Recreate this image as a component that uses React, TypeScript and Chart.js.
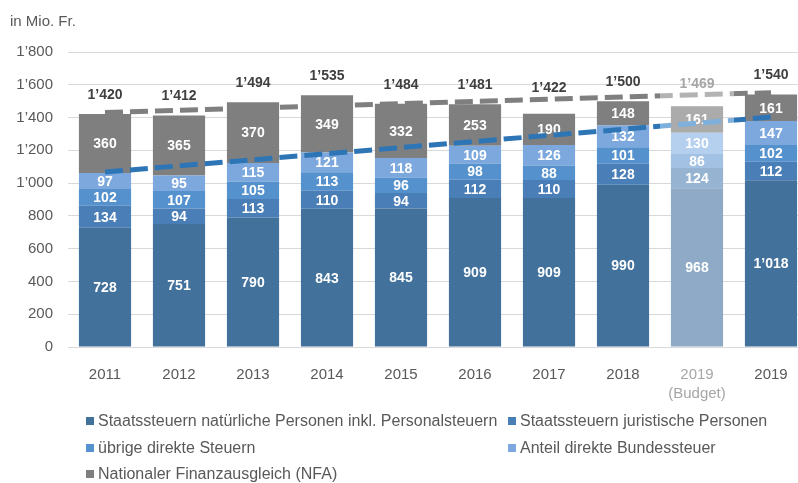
import React, { useEffect, useRef } from "react";
import { Chart, registerables } from "chart.js";

Chart.register(...registerables);

const CATEGORIES: (string | string[])[] = ["2011", "2012", "2013", "2014", "2015", "2016", "2017", "2018", ["2019", "(Budget)"], "2019"];
const IS_BUDGET = [false, false, false, false, false, false, false, false, true, false];

const NATUERLICHE = [728, 751, 790, 843, 845, 909, 909, 990, 968, 1018];
const JURISTISCHE = [134, 94, 113, 110, 94, 112, 110, 128, 124, 112];
const UEBRIGE = [102, 107, 105, 113, 96, 98, 88, 101, 86, 102];
const BUNDESSTEUER = [97, 95, 115, 121, 118, 109, 126, 132, 130, 147];
const NFA = [360, 365, 370, 349, 332, 253, 190, 148, 161, 161];
const TOTALS = [1420, 1412, 1494, 1535, 1484, 1481, 1422, 1500, 1469, 1540];

// trend lines (read at first and last category)
const TREND_TOTAL = [1431, null, null, null, null, null, null, null, null, 1552];
const TREND_DIRECT = [1068, null, null, null, null, null, null, null, null, 1403];

const Y_TICKS = [0, 200, 400, 600, 800, 1000, 1200, 1400, 1600, 1800];

const SERIES = [
  { label: "Staatssteuern natürliche Personen inkl. Personalsteuern", data: NATUERLICHE, color: "#42719c", budget: "#8faac7" },
  { label: "Staatssteuern juristische Personen", data: JURISTISCHE, color: "#4a7eb6", budget: "#96b3d2" },
  { label: "übrige direkte Steuern", data: UEBRIGE, color: "#5592cd", budget: "#a2c1e3" },
  { label: "Anteil direkte Bundessteuer", data: BUNDESSTEUER, color: "#7ca8dd", budget: "#b5cfee" },
  { label: "Nationaler Finanzausgleich (NFA)", data: NFA, color: "#7f7f7f", budget: "#ababab" },
];

const FONT = '"Liberation Sans", Arial, sans-serif';

function fmt(v: number): string {
  const s = String(Math.round(v));
  return s.replace(/\B(?=(\d{3})+(?!\d))/g, "\u2019");
}

function trendColor(dark: string, light: string) {
  return (ctx: any) => {
    const chart = ctx.chart;
    const area = chart.chartArea;
    if (!area) return dark;
    const g = chart.ctx.createLinearGradient(area.left, 0, area.right, 0);
    const n = CATEGORIES.length;
    const bi = IS_BUDGET.indexOf(true);
    const a = bi / n;
    const b = (bi + 1) / n;
    g.addColorStop(0, dark);
    g.addColorStop(a, dark);
    g.addColorStop(a, light);
    g.addColorStop(b, light);
    g.addColorStop(b, dark);
    g.addColorStop(1, dark);
    return g;
  };
}

const labelPlugin = {
  id: "barLabels",
  afterDatasetDraw(chart: any, args: any) {
    const ds = chart.data.datasets[args.index];
    if (ds.type !== "bar") return;
    const ctx = chart.ctx;
    const meta = args.meta;
    ctx.save();
    ctx.font = `bold 14px ${FONT}`;
    ctx.textAlign = "center";
    ctx.textBaseline = "middle";
    ctx.fillStyle = "#ffffff";
    meta.data.forEach((bar: any, i: number) => {
      const p = bar.getProps(["x", "y", "base"], true);
      ctx.fillText(fmt(ds.data[i]), p.x, (p.y + p.base) / 2 + 1);
    });
    if (args.index === SERIES.length - 1) {
      // totals above the stacks, kept clear of the total trend line
      const lineMeta = chart.getDatasetMeta(SERIES.length);
      const pts = lineMeta.data;
      const p0 = pts[0].getProps(["x", "y"], true);
      const p1 = pts[pts.length - 1].getProps(["x", "y"], true);
      const yScale = chart.scales.y;
      meta.data.forEach((bar: any, i: number) => {
        const p = bar.getProps(["x"], true);
        const top = yScale.getPixelForValue(TOTALS[i]);
        const ly = p0.y + ((p1.y - p0.y) * (p.x - p0.x)) / (p1.x - p0.x);
        const y = Math.min(top - 19, ly - 11);
        ctx.fillStyle = IS_BUDGET[i] ? "#a6a6a6" : "#404040";
        ctx.fillText(fmt(TOTALS[i]), p.x, y);
      });
    }
    ctx.restore();
  },
};

export default function App() {
  const ref = useRef<HTMLCanvasElement>(null);

  useEffect(() => {
    if (!ref.current) return;
    Chart.defaults.font.family = FONT;
    const datasets: any[] = SERIES.map((s) => ({
      type: "bar",
      label: s.label,
      data: s.data,
      backgroundColor: IS_BUDGET.map((b) => (b ? s.budget : s.color)),
      borderWidth: 0,
      barPercentage: 0.705,
      categoryPercentage: 1,
      order: 1,
      stack: "bars",
    }));
    datasets.push({
      type: "line",
      label: "Trend Total",
      data: TREND_TOTAL,
      borderColor: trendColor("#7f7f7f", "#b3b3b3"),
      borderWidth: 5,
      borderDash: [18, 7],
      pointRadius: 0,
      spanGaps: true,
      fill: false,
      order: 0,
      stack: "t1",
    });
    datasets.push({
      type: "line",
      label: "Trend direkte Steuern",
      data: TREND_DIRECT,
      borderColor: trendColor("#2e75b6", "#7fb0dc"),
      borderWidth: 5,
      borderDash: [18, 7],
      pointRadius: 0,
      spanGaps: true,
      fill: false,
      order: 0,
      stack: "t2",
    });

    const chart = new Chart(ref.current, {
      type: "bar",
      data: { labels: CATEGORIES as any, datasets },
      plugins: [labelPlugin as any],
      options: {
        animation: false,
        responsive: false,
        devicePixelRatio: 1,
        layout: { padding: { top: 52, left: 0, right: 0, bottom: 0 } },
        plugins: { legend: { display: false }, tooltip: { enabled: false }, title: { display: false } },
        scales: {
          x: {
            stacked: true,
            grid: { display: false },
            border: { display: false },
            ticks: {
              autoSkip: false,
              maxRotation: 0,
              padding: 10,
              font: { size: 15, family: FONT, lineHeight: 1.3 },
              color: (c: any) => (IS_BUDGET[c.index] ? "#a6a6a6" : "#595959"),
            },
            afterFit: (scale: any) => {
              scale.height = 136;
            },
          },
          y: {
            stacked: true,
            min: 0,
            max: Y_TICKS[Y_TICKS.length - 1],
            afterBuildTicks: (scale: any) => {
              scale.ticks = Y_TICKS.map((v) => ({ value: v }));
            },
            grid: { color: "#d9d9d9", lineWidth: 1, drawTicks: false },
            border: { display: false },
            ticks: {
              padding: 15,
              font: { size: 15, family: FONT },
              color: "#595959",
              callback: (v: any) => fmt(Number(v)),
            },
            afterFit: (scale: any) => {
              scale.width = 68;
            },
          },
        },
      } as any,
    });
    return () => chart.destroy();
  }, []);

  const legendRows = [
    [0, 1],
    [2, 3],
    [4],
  ];
  const rowCenters = [421, 447.5, 474];
  const colLeft = [86, 508];

  return (
    <div
      style={{
        position: "fixed",
        left: 0,
        top: 0,
        width: 798,
        height: 483,
        overflow: "hidden",
        background: "#ffffff",
        fontFamily: FONT,
      }}
    >
      <canvas ref={ref} width={808} height={483} style={{ position: "absolute", left: 0, top: 0, width: 808, height: 483 }} />
      <div style={{ position: "absolute", left: 10, top: 12, fontSize: 15, lineHeight: "17px", color: "#595959" }}>in Mio. Fr.</div>
      {legendRows.map((row, r) =>
        row.map((si, c) => (
          <div
            key={si}
            style={{
              position: "absolute",
              left: colLeft[c],
              top: rowCenters[r] - 9,
              height: 18,
              display: "flex",
              alignItems: "center",
              whiteSpace: "nowrap",
            }}
          >
            <span style={{ display: "inline-block", width: 8, height: 8, background: SERIES[si].color, marginRight: 4 }} />
            <span
              style={{
                display: "inline-block",
                fontFamily: FONT,
                fontSize: 16,
                lineHeight: "18px",
                color: "#595959",
              }}
            >
              {SERIES[si].label}
            </span>
          </div>
        ))
      )}
    </div>
  );
}
